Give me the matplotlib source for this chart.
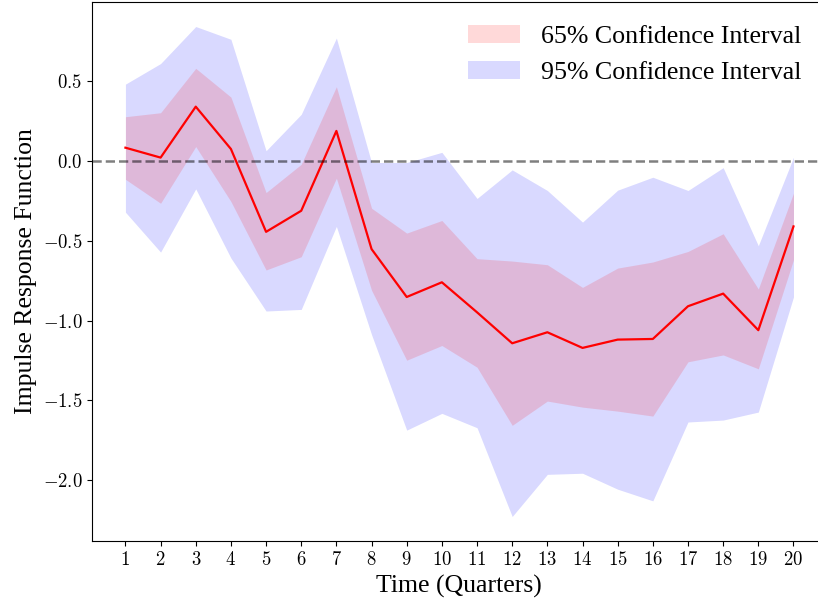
import numpy as np
import matplotlib
matplotlib.use('Agg')
import matplotlib.pyplot as plt
from matplotlib.patches import Patch

plt.rcParams['font.family'] = ['Liberation Serif', 'DejaVu Serif']
plt.rcParams['mathtext.fontset'] = 'cm'

quarters = np.arange(1, 21)
irf = [0.083, 0.021, 0.34, 0.075, -0.444, -0.312, 0.188, -0.552, -0.852, -0.76,
       -0.948, -1.142, -1.073, -1.171, -1.119, -1.115, -0.91, -0.831, -1.06, -0.41]
upper65 = [0.277, 0.302, 0.58, 0.40, -0.198, -0.021, 0.465, -0.296, -0.452, -0.373,
           -0.612, -0.627, -0.65, -0.792, -0.671, -0.633, -0.567, -0.456, -0.802, -0.202]
lower65 = [-0.115, -0.265, 0.09, -0.254, -0.683, -0.60, -0.108, -0.81, -1.248, -1.156,
           -1.292, -1.656, -1.504, -1.542, -1.567, -1.598, -1.258, -1.215, -1.302, -0.619]
upper95 = [0.481, 0.61, 0.842, 0.762, 0.064, 0.292, 0.77, -0.01, -0.01, 0.054,
           -0.235, -0.056, -0.185, -0.383, -0.183, -0.102, -0.185, -0.042, -0.531, 0.023]
lower95 = [-0.321, -0.571, -0.175, -0.608, -0.94, -0.93, -0.41, -1.088, -1.686, -1.581,
           -1.671, -2.227, -1.963, -1.956, -2.056, -2.129, -1.635, -1.623, -1.573, -0.852]
xtick_labels = ['$%d$' % q for q in quarters]

fig = plt.figure(figsize=(8.18, 6.10), dpi=100)
# axes runs past the right edge of the figure (right spine cut off, like the original)
ax = fig.add_axes([0.1125, 0.1131, 1.0875, 0.8836])
ax.spines['right'].set_visible(False)

ax.fill_between(quarters, lower95, upper95, color='blue', alpha=0.15, linewidth=0)
ax.fill_between(quarters, lower65, upper65, color='red', alpha=0.15, linewidth=0)
ax.plot(quarters, irf, color='red', lw=1.6)
ax.axhline(0, color='k', alpha=0.5, ls='--', lw=1.8)
ax.set_xlim(0.05, 25.35)

ax.set_xticks(quarters)
ax.set_xticklabels(xtick_labels, fontsize=13.5)
yt = [-2.0, -1.5, -1.0, -0.5, 0.0, 0.5]
ax.set_yticks(yt)
ax.set_yticklabels(['$%.1f$' % v for v in yt], fontsize=13.5)
ax.set_xlabel('Time (Quarters)', fontsize=18.5)
ax.set_ylabel('Impulse Response Function', fontsize=18.5)
ax.xaxis.set_label_coords(0.5 * 0.8978 / 1.0875, -0.062)

handles = [Patch(color='red', alpha=0.15, linewidth=0), Patch(color='blue', alpha=0.15, linewidth=0)]
ax.legend(handles, ['65% Confidence Interval', '95% Confidence Interval'],
          loc='upper right', frameon=False, fontsize=18.6,
          bbox_to_anchor=(1.0076, 0.9967), bbox_transform=fig.transFigure)

plt.savefig('out.png', dpi=100)
